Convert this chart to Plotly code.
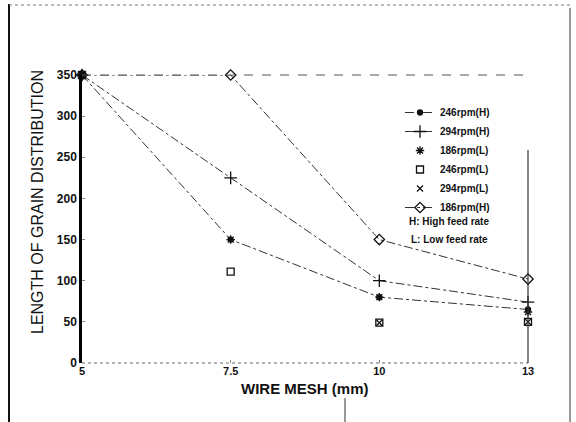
import plotly.graph_objects as go

# ---- data ----
mesh = ["5", "7.5", "10", "13"]
rpm246_H = [350, 150, 80, 65]
rpm294_H = [350, 225, 100, 74]
rpm186_L = [350, 150, 80, 62]
rpm246_L = [350, 111, 49, 50]
rpm294_L = [350, None, 49, 50]
rpm186_H = [350, 350, 150, 102]
y_ticks = [0, 50, 100, 150, 200, 250, 300, 350]

INK = "#111111"
LINE = "#333333"

fig = go.Figure()

def add(name, y, mode, symbol, size, dash="dashdot", lw=1.0):
    fig.add_trace(go.Scatter(
        x=mesh, y=y, name=name, mode=mode, cliponaxis=False,
        line=dict(color=LINE, width=lw, dash=dash),
        marker=dict(symbol=symbol, size=size, color=INK,
                    line=dict(color=INK, width=1.3)),
        connectgaps=False,
    ))

add("246rpm(H)", rpm246_H, "lines+markers", "circle", 5)
add("294rpm(H)", rpm294_H, "lines+markers", "cross-thin", 9)
add("186rpm(L)", rpm186_L, "markers", "asterisk-open", 7)
add("246rpm(L)", rpm246_L, "markers", "square-open", 7)
add("294rpm(L)", rpm294_L, "markers", "x-thin-open", 6)
add("186rpm(H)", rpm186_H, "lines+markers", "diamond-open", 8)

L, R, T, B = 82, 48, 75, 59
W, H = 576, 422
pw, ph = W - L - R, H - T - B

def px(xp):
    return (xp - L) / pw

def py(yp):
    return (H - B - yp) / ph

shapes = [
    # top dashed frame line at 350
    dict(type="line", xref="paper", yref="paper", x0=0, x1=1, y0=1, y1=1,
         line=dict(color="#555555", width=1, dash="dash")),
    # bottom dashed axis
    dict(type="line", xref="paper", yref="paper", x0=0, x1=1, y0=0, y1=0,
         line=dict(color="#666666", width=1, dash="dot")),
    # right axis line at x=13
    dict(type="line", xref="paper", yref="paper", x0=1, x1=1, y0=0, y1=py(150),
         line=dict(color="#333333", width=1.2)),
    # page border
    dict(type="line", xref="paper", yref="paper", x0=px(9), x1=px(9), y0=py(4), y1=py(422),
         line=dict(color="#111111", width=2)),
    dict(type="line", xref="paper", yref="paper", x0=px(9), x1=px(570), y0=py(5), y1=py(5),
         line=dict(color="#777777", width=1, dash="dot")),
    dict(type="line", xref="paper", yref="paper", x0=px(570), x1=px(570), y0=py(8), y1=py(422),
         line=dict(color="#555555", width=1.2)),
    dict(type="line", xref="paper", yref="paper", x0=px(345), x1=px(345), y0=py(398), y1=py(422),
         line=dict(color="#333333", width=1)),
]

annotations = [
    dict(text="LENGTH OF GRAIN DISTRIBUTION", xref="paper", yref="paper",
         x=px(37), y=py(202), textangle=-90, showarrow=False,
         xanchor="center", yanchor="middle",
         font=dict(family="Liberation Sans, Arial, sans-serif", size=16, color=INK)),
    dict(text="WIRE MESH (mm)", xref="paper", yref="paper",
         x=px(305), y=py(388), showarrow=False, xanchor="center", yanchor="middle",
         font=dict(family="Liberation Sans, Arial, sans-serif", size=15, color=INK, weight="bold")),
    dict(text="H: High feed rate", xref="paper", yref="paper",
         x=px(407), y=py(221), showarrow=False, xanchor="left", yanchor="middle",
         font=dict(family="Liberation Sans, Arial, sans-serif", size=10, color=INK, weight="bold")),
    dict(text="L: Low feed rate", xref="paper", yref="paper",
         x=px(409), y=py(239), showarrow=False, xanchor="left", yanchor="middle",
         font=dict(family="Liberation Sans, Arial, sans-serif", size=10, color=INK, weight="bold")),
]

fig.update_layout(
    width=W, height=H,
    margin=dict(l=L, r=R, t=T, b=B, pad=0),
    paper_bgcolor="white", plot_bgcolor="white",
    font=dict(family="Liberation Sans, Arial, sans-serif", color=INK),
    showlegend=True,
    legend=dict(x=px(400), y=py(98), xanchor="left", yanchor="top",
                bgcolor="rgba(0,0,0,0)", borderwidth=0,
                font=dict(size=10, color=INK, weight="bold"),
                tracegroupgap=0, itemwidth=30),
    xaxis=dict(type="category", categoryorder="array", categoryarray=mesh,
               range=[0, 3], showgrid=False, zeroline=False, showline=False,
               ticks="inside", ticklen=3, tickcolor="#888888",
               tickfont=dict(size=11, color=INK, weight="bold")),
    yaxis=dict(range=[0, 350], tickvals=y_ticks, showgrid=False, zeroline=False,
               showline=True, linecolor="#000000", linewidth=2.5,
               ticks="inside", ticklen=3, tickcolor="#888888",
               tickfont=dict(size=12, color=INK, weight="bold")),
    shapes=shapes,
    annotations=annotations,
)

fig.write_html("out.html")
